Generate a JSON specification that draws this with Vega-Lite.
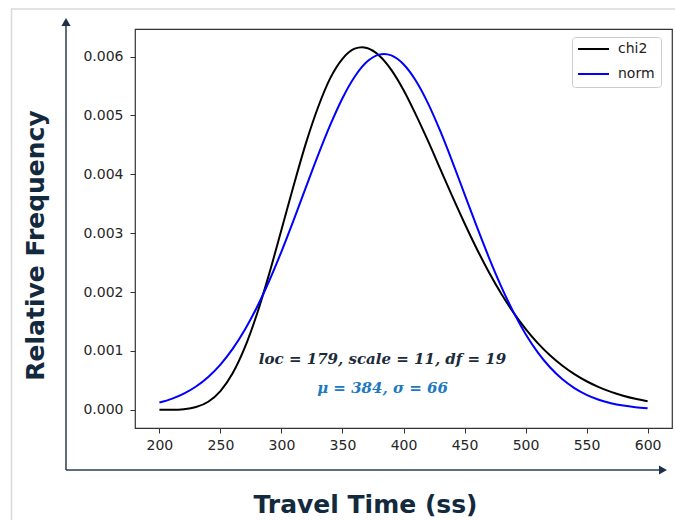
{
  "$schema": "https://vega.github.io/schema/vega-lite/v6.json",
  "autosize": {"type": "none"},
  "width": 537,
  "height": 399,
  "padding": {"left": 135, "top": 29, "right": 3, "bottom": 92},
  "background": "white",
  "config": {
    "view": {"stroke": "#333333", "strokeWidth": 1.2},
    "axis": {
      "grid": false,
      "domain": false,
      "tickColor": "#333333",
      "tickSize": 5,
      "tickWidth": 1,
      "labelFont": "DejaVu Sans",
      "labelFontSize": 14,
      "labelColor": "#262626",
      "titleFont": "DejaVu Sans",
      "titleFontSize": 25,
      "titleFontWeight": "bold",
      "titleColor": "#13293d"
    }
  },
  "datasets": {
    "pdf": [
      {"t": 200, "dist": "chi2", "f": 0.0000001},
      {"t": 210, "dist": "chi2", "f": 0.0000017},
      {"t": 220, "dist": "chi2", "f": 0.0000117},
      {"t": 230, "dist": "chi2", "f": 0.0000476},
      {"t": 240, "dist": "chi2", "f": 0.0001385},
      {"t": 250, "dist": "chi2", "f": 0.0003196},
      {"t": 260, "dist": "chi2", "f": 0.000621},
      {"t": 270, "dist": "chi2", "f": 0.00106},
      {"t": 280, "dist": "chi2", "f": 0.001633},
      {"t": 290, "dist": "chi2", "f": 0.002314},
      {"t": 300, "dist": "chi2", "f": 0.003058},
      {"t": 310, "dist": "chi2", "f": 0.00381},
      {"t": 320, "dist": "chi2", "f": 0.004526},
      {"t": 330, "dist": "chi2", "f": 0.00514},
      {"t": 340, "dist": "chi2", "f": 0.005634},
      {"t": 350, "dist": "chi2", "f": 0.005963},
      {"t": 360, "dist": "chi2", "f": 0.006135},
      {"t": 366, "dist": "chi2", "f": 0.006161},
      {"t": 370, "dist": "chi2", "f": 0.006146},
      {"t": 380, "dist": "chi2", "f": 0.00602},
      {"t": 390, "dist": "chi2", "f": 0.005776},
      {"t": 400, "dist": "chi2", "f": 0.005434},
      {"t": 410, "dist": "chi2", "f": 0.00502},
      {"t": 420, "dist": "chi2", "f": 0.004572},
      {"t": 430, "dist": "chi2", "f": 0.004098},
      {"t": 440, "dist": "chi2", "f": 0.003625},
      {"t": 450, "dist": "chi2", "f": 0.00317},
      {"t": 460, "dist": "chi2", "f": 0.002737},
      {"t": 470, "dist": "chi2", "f": 0.002338},
      {"t": 480, "dist": "chi2", "f": 0.001977},
      {"t": 490, "dist": "chi2", "f": 0.001657},
      {"t": 500, "dist": "chi2", "f": 0.001376},
      {"t": 510, "dist": "chi2", "f": 0.001134},
      {"t": 520, "dist": "chi2", "f": 0.000927},
      {"t": 530, "dist": "chi2", "f": 0.000753},
      {"t": 540, "dist": "chi2", "f": 0.000606},
      {"t": 550, "dist": "chi2", "f": 0.000486},
      {"t": 560, "dist": "chi2", "f": 0.000387},
      {"t": 570, "dist": "chi2", "f": 0.000306},
      {"t": 580, "dist": "chi2", "f": 0.000241},
      {"t": 590, "dist": "chi2", "f": 0.000188},
      {"t": 600, "dist": "chi2", "f": 0.0001465},
      {"t": 200, "dist": "norm", "f": 0.000124},
      {"t": 210, "dist": "norm", "f": 0.000187},
      {"t": 220, "dist": "norm", "f": 0.000276},
      {"t": 230, "dist": "norm", "f": 0.000397},
      {"t": 240, "dist": "norm", "f": 0.000559},
      {"t": 250, "dist": "norm", "f": 0.00077},
      {"t": 260, "dist": "norm", "f": 0.001035},
      {"t": 270, "dist": "norm", "f": 0.00136},
      {"t": 280, "dist": "norm", "f": 0.001747},
      {"t": 290, "dist": "norm", "f": 0.002193},
      {"t": 300, "dist": "norm", "f": 0.002689},
      {"t": 310, "dist": "norm", "f": 0.003224},
      {"t": 320, "dist": "norm", "f": 0.003778},
      {"t": 330, "dist": "norm", "f": 0.004326},
      {"t": 340, "dist": "norm", "f": 0.00484},
      {"t": 350, "dist": "norm", "f": 0.005294},
      {"t": 360, "dist": "norm", "f": 0.005658},
      {"t": 370, "dist": "norm", "f": 0.005911},
      {"t": 380, "dist": "norm", "f": 0.006034},
      {"t": 384, "dist": "norm", "f": 0.006045},
      {"t": 390, "dist": "norm", "f": 0.00602},
      {"t": 400, "dist": "norm", "f": 0.00587},
      {"t": 410, "dist": "norm", "f": 0.005594},
      {"t": 420, "dist": "norm", "f": 0.00521},
      {"t": 430, "dist": "norm", "f": 0.004741},
      {"t": 440, "dist": "norm", "f": 0.004218},
      {"t": 450, "dist": "norm", "f": 0.003666},
      {"t": 460, "dist": "norm", "f": 0.003115},
      {"t": 470, "dist": "norm", "f": 0.002587},
      {"t": 480, "dist": "norm", "f": 0.002099},
      {"t": 490, "dist": "norm", "f": 0.001665},
      {"t": 500, "dist": "norm", "f": 0.00129},
      {"t": 510, "dist": "norm", "f": 0.000977},
      {"t": 520, "dist": "norm", "f": 0.000723},
      {"t": 530, "dist": "norm", "f": 0.000523},
      {"t": 540, "dist": "norm", "f": 0.00037},
      {"t": 550, "dist": "norm", "f": 0.000256},
      {"t": 560, "dist": "norm", "f": 0.000173},
      {"t": 570, "dist": "norm", "f": 0.000114},
      {"t": 580, "dist": "norm", "f": 0.0000736},
      {"t": 590, "dist": "norm", "f": 0.0000464},
      {"t": 600, "dist": "norm", "f": 0.0000285}
    ]
  },
  "layer": [
    {
      "description": "light page frame behind the figure",
      "data": {"values": [{}]},
      "mark": {"type": "rect", "filled": false, "stroke": "#d9d9d9", "strokeWidth": 1.5, "clip": false},
      "encoding": {
        "x": {"datum": 78.8, "type": "quantitative"},
        "x2": {"datum": 642.9},
        "y": {"datum": 0.006809, "type": "quantitative"},
        "y2": {"datum": -0.00221}
      }
    },
    {
      "data": {"name": "pdf"},
      "mark": {"type": "line", "interpolate": "monotone", "strokeWidth": 2},
      "encoding": {
        "x": {
          "field": "t",
          "type": "quantitative",
          "scale": {"domain": [180, 620], "nice": false, "zero": false},
          "axis": {
            "values": [200, 250, 300, 350, 400, 450, 500, 550, 600],
            "labelPadding": 5,
            "title": "Travel Time (ss)",
            "titleX": 230,
            "titleY": 84,
            "titleAlign": "center",
            "titleBaseline": "alphabetic"
          }
        },
        "y": {
          "field": "f",
          "type": "quantitative",
          "scale": {"domain": [-0.000308, 0.006469], "nice": false, "zero": false},
          "axis": {
            "values": [0, 0.001, 0.002, 0.003, 0.004, 0.005, 0.006],
            "format": ".3f",
            "labelPadding": 7,
            "title": "Relative Frequency",
            "titleAngle": -90,
            "titleX": -92,
            "titleY": 216,
            "titleAlign": "center",
            "titleBaseline": "alphabetic"
          }
        },
        "color": {
          "field": "dist",
          "type": "nominal",
          "scale": {"domain": ["chi2", "norm"], "range": ["#000000", "#0000ff"]},
          "legend": {
            "title": null,
            "orient": "none",
            "legendX": 437,
            "legendY": 8,
            "padding": 6,
            "fillColor": "white",
            "strokeColor": "#cccccc",
            "cornerRadius": 3,
            "symbolType": "stroke",
            "symbolSize": 1089,
            "symbolStrokeWidth": 2,
            "symbolOffset": -3,
            "clipHeight": 12,
            "rowPadding": 11,
            "labelOffset": 8,
            "labelFont": "DejaVu Sans",
            "labelFontSize": 14,
            "labelColor": "#222222"
          }
        }
      }
    },
    {
      "description": "outer axis arrows",
      "data": {"values": [{}]},
      "mark": {"type": "rule", "stroke": "#2b3d50", "strokeWidth": 1.5, "clip": false},
      "encoding": {
        "x": {"datum": 123.46, "type": "quantitative"},
        "y": {"datum": -0.0010213, "type": "quantitative"},
        "y2": {"datum": 0.0065879}
      }
    },
    {
      "data": {"values": [{}]},
      "mark": {"type": "rule", "stroke": "#2b3d50", "strokeWidth": 1.5, "clip": false},
      "encoding": {
        "x": {"datum": 123.46, "type": "quantitative"},
        "x2": {"datum": 612.6},
        "y": {"datum": -0.0010213, "type": "quantitative"}
      }
    },
    {
      "data": {"values": [{}]},
      "mark": {"type": "point", "shape": "triangle-up", "size": 85, "filled": true, "color": "#1d3247", "opacity": 1, "clip": false},
      "encoding": {
        "x": {"datum": 123.46, "type": "quantitative"},
        "y": {"datum": 0.0065879, "type": "quantitative"}
      }
    },
    {
      "data": {"values": [{}]},
      "mark": {"type": "point", "shape": "triangle-right", "size": 85, "filled": true, "color": "#1d3247", "opacity": 1, "clip": false},
      "encoding": {
        "x": {"datum": 612.6, "type": "quantitative"},
        "y": {"datum": -0.0010213, "type": "quantitative"}
      }
    },
    {
      "data": {"values": [{}]},
      "mark": {"type": "text", "text": "loc = 179, scale = 11, df = 19", "font": "DejaVu Serif", "fontStyle": "italic", "fontWeight": "bold", "fontSize": 15, "color": "#1c2b3a", "align": "center", "baseline": "middle"},
      "encoding": {
        "x": {"datum": 382.8, "type": "quantitative"},
        "y": {"datum": 0.000864, "type": "quantitative"}
      }
    },
    {
      "data": {"values": [{}]},
      "mark": {"type": "text", "text": "μ = 384, σ = 66", "font": "DejaVu Serif", "fontStyle": "italic", "fontWeight": "bold", "fontSize": 15, "color": "#2079c0", "align": "center", "baseline": "middle"},
      "encoding": {
        "x": {"datum": 382.8, "type": "quantitative"},
        "y": {"datum": 0.0003715, "type": "quantitative"}
      }
    }
  ]
}
